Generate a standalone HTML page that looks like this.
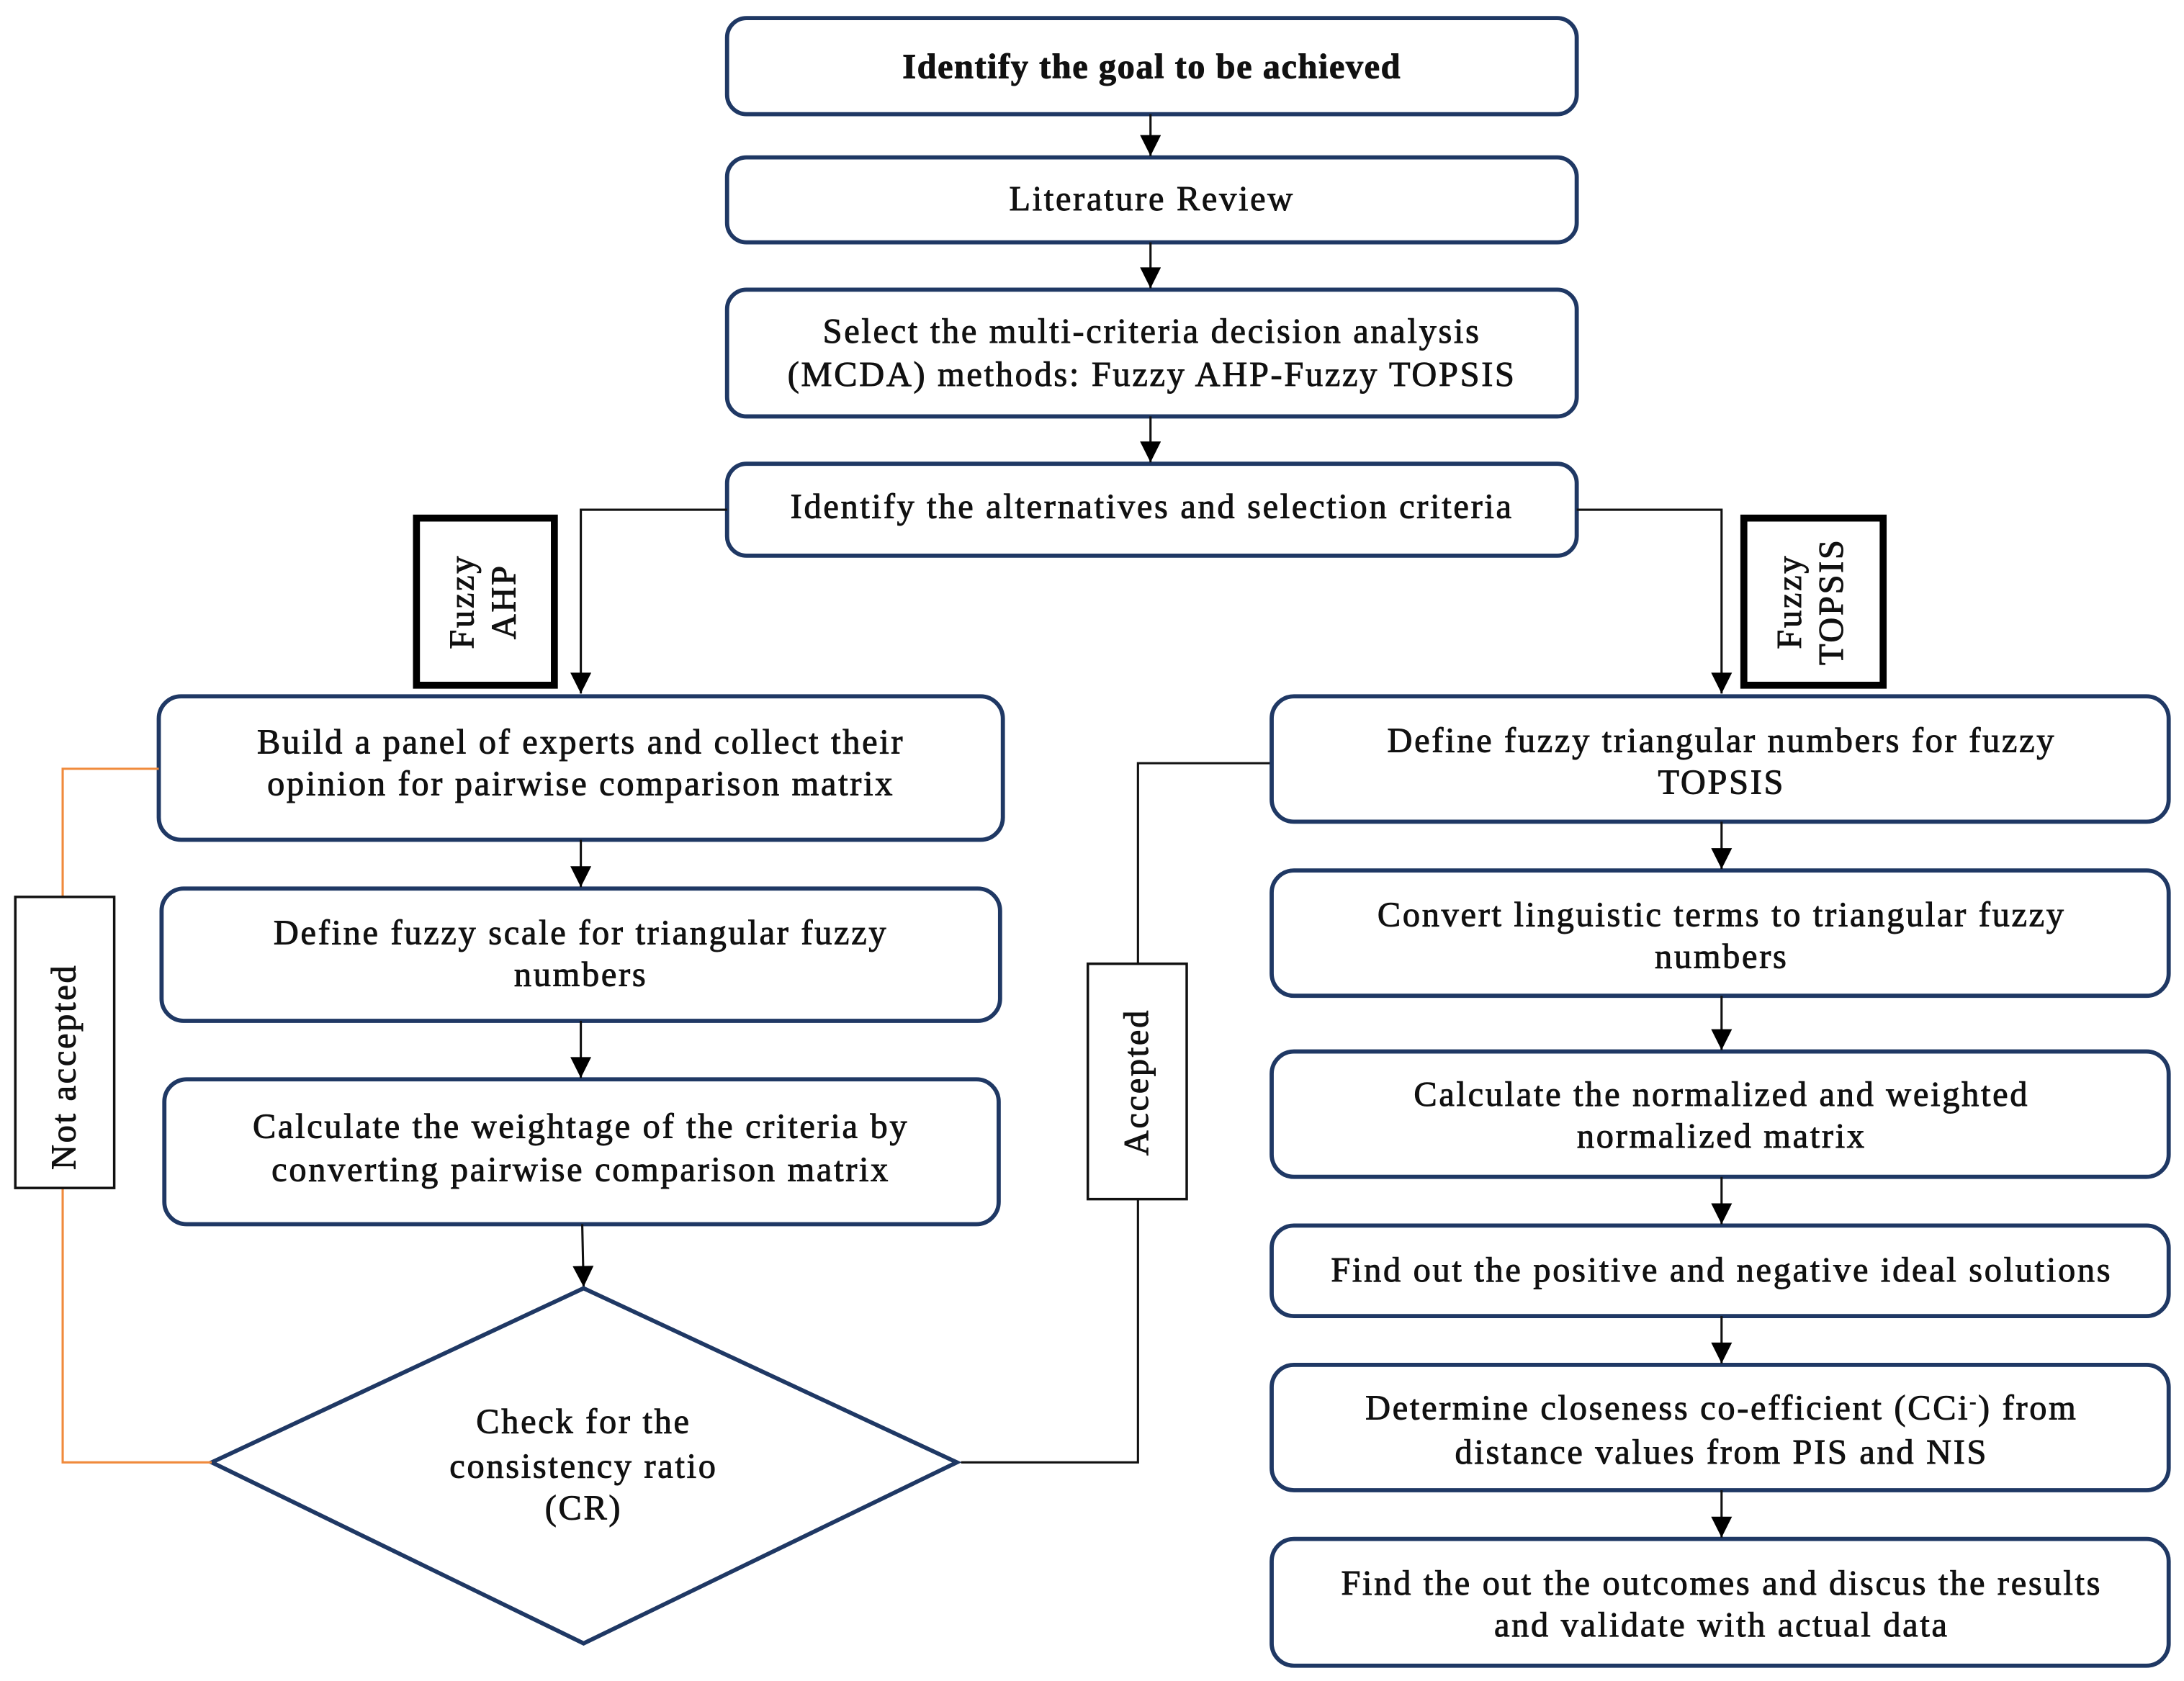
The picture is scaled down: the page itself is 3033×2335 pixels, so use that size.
<!DOCTYPE html>
<html><head><meta charset="utf-8"><style>
html,body{margin:0;padding:0;background:#fff;}
svg{display:block;}
text{font-family:"Liberation Serif",serif;font-size:25px;letter-spacing:1.4px;fill:#111;text-anchor:middle;stroke:#111;stroke-width:0.5;}
.b{fill:#fff;stroke:#1f3864;stroke-width:3;}
.l{stroke:#111;stroke-width:1.6;fill:none;}
</style></head><body>
<svg width="3033" height="2335" viewBox="0 0 1568 1207" preserveAspectRatio="none" xmlns="http://www.w3.org/2000/svg">
<defs>
<marker id="d" viewBox="0 0 10 10" refX="10" refY="5" markerWidth="20" markerHeight="15" orient="auto" markerUnits="userSpaceOnUse"><path d="M0,0 L10,5 L0,10 Z" fill="#000"/></marker></defs>

<rect class="b" x="522" y="13" width="610" height="69" rx="14"/>
<text x="827" y="56" style="font-weight:bold;letter-spacing:0.8px">Identify the goal to be achieved</text>
<rect class="b" x="522" y="113" width="610" height="61" rx="14"/>
<text x="827" y="151">Literature Review</text>
<rect class="b" x="522" y="208" width="610" height="91" rx="14"/>
<text x="827" y="246">Select the multi-criteria decision analysis</text>
<text x="827" y="277">(MCDA) methods: Fuzzy AHP-Fuzzy TOPSIS</text>
<rect class="b" x="522" y="333" width="610" height="66" rx="14"/>
<text x="827" y="372">Identify the alternatives and selection criteria</text>

<line class="l" x1="826" y1="82" x2="826" y2="112" marker-end="url(#d)"/>
<line class="l" x1="826" y1="174" x2="826" y2="207" marker-end="url(#d)"/>
<line class="l" x1="826" y1="299" x2="826" y2="332" marker-end="url(#d)"/>
<polyline class="l" points="522,366 417,366 417,498" marker-end="url(#d)"/>
<polyline class="l" points="1132,366 1236,366 1236,498" marker-end="url(#d)"/>

<rect x="299" y="372" width="99" height="120" fill="#fff" stroke="#000" stroke-width="5"/>
<text transform="translate(340,432) rotate(-90)">Fuzzy</text>
<text transform="translate(370,432) rotate(-90)">AHP</text>
<rect x="1252" y="372" width="100" height="120" fill="#fff" stroke="#000" stroke-width="5"/>
<text transform="translate(1293,432) rotate(-90)">Fuzzy</text>
<text transform="translate(1323,432) rotate(-90)">TOPSIS</text>

<rect class="b" x="114" y="500" width="606" height="103" rx="16"/>
<text x="417" y="541">Build a panel of experts and collect their</text>
<text x="417" y="571">opinion for pairwise comparison matrix</text>
<rect class="b" x="116" y="638" width="602" height="95" rx="16"/>
<text x="417" y="678">Define fuzzy scale for triangular fuzzy</text>
<text x="417" y="708">numbers</text>
<rect class="b" x="118" y="775" width="599" height="104" rx="16"/>
<text x="417" y="817">Calculate the weightage of the criteria by</text>
<text x="417" y="848">converting pairwise comparison matrix</text>
<line class="l" x1="417" y1="603" x2="417" y2="637" marker-end="url(#d)"/>
<line class="l" x1="417" y1="733" x2="417" y2="774" marker-end="url(#d)"/>
<line class="l" x1="418" y1="879" x2="419" y2="924" marker-end="url(#d)"/>

<polygon points="419,925 687,1050 419,1180 152,1050" fill="#fff" stroke="#1f3864" stroke-width="3"/>
<text x="419" y="1029">Check for the</text>
<text x="419" y="1061">consistency ratio</text>
<text x="419" y="1091">(CR)</text>

<polyline points="114,552 45,552 45,644" fill="none" stroke="#f08a3c" stroke-width="1.6"/>
<polyline points="45,853 45,1050 152,1050" fill="none" stroke="#f08a3c" stroke-width="1.6"/>
<rect x="11" y="644" width="71" height="209" fill="#fff" stroke="#111" stroke-width="1.8"/>
<text transform="translate(54,766) rotate(-90)">Not accepted</text>

<polyline class="l" points="913,548 817,548 817,692"/>
<polyline class="l" points="817,861 817,1050 690,1050"/>
<rect x="781" y="692" width="71" height="169" fill="#fff" stroke="#111" stroke-width="1.8"/>
<text transform="translate(824,777) rotate(-90)">Accepted</text>

<rect class="b" x="913" y="500" width="644" height="90" rx="16"/>
<text x="1236" y="540">Define fuzzy triangular numbers for fuzzy</text>
<text x="1236" y="570">TOPSIS</text>
<rect class="b" x="913" y="625" width="644" height="90" rx="16"/>
<text x="1236" y="665">Convert linguistic terms to triangular fuzzy</text>
<text x="1236" y="695">numbers</text>
<rect class="b" x="913" y="755" width="644" height="90" rx="16"/>
<text x="1236" y="794">Calculate the normalized and weighted</text>
<text x="1236" y="824">normalized matrix</text>
<rect class="b" x="913" y="880" width="644" height="65" rx="16"/>
<text x="1236" y="920">Find out the positive and negative ideal solutions</text>
<rect class="b" x="913" y="980" width="644" height="90" rx="16"/>
<text x="1236" y="1019">Determine closeness co-efficient (CCi<tspan dy="-8" font-size="14">-</tspan><tspan dy="8">) from</tspan></text>
<text x="1236" y="1051">distance values from PIS and NIS</text>
<rect class="b" x="913" y="1105" width="644" height="91" rx="16"/>
<text x="1236" y="1145">Find the out the outcomes and discus the results</text>
<text x="1236" y="1175">and validate with actual data</text>
<line class="l" x1="1236" y1="590" x2="1236" y2="624" marker-end="url(#d)"/>
<line class="l" x1="1236" y1="715" x2="1236" y2="754" marker-end="url(#d)"/>
<line class="l" x1="1236" y1="845" x2="1236" y2="879" marker-end="url(#d)"/>
<line class="l" x1="1236" y1="945" x2="1236" y2="979" marker-end="url(#d)"/>
<line class="l" x1="1236" y1="1070" x2="1236" y2="1104" marker-end="url(#d)"/>
</svg>
</body></html>
